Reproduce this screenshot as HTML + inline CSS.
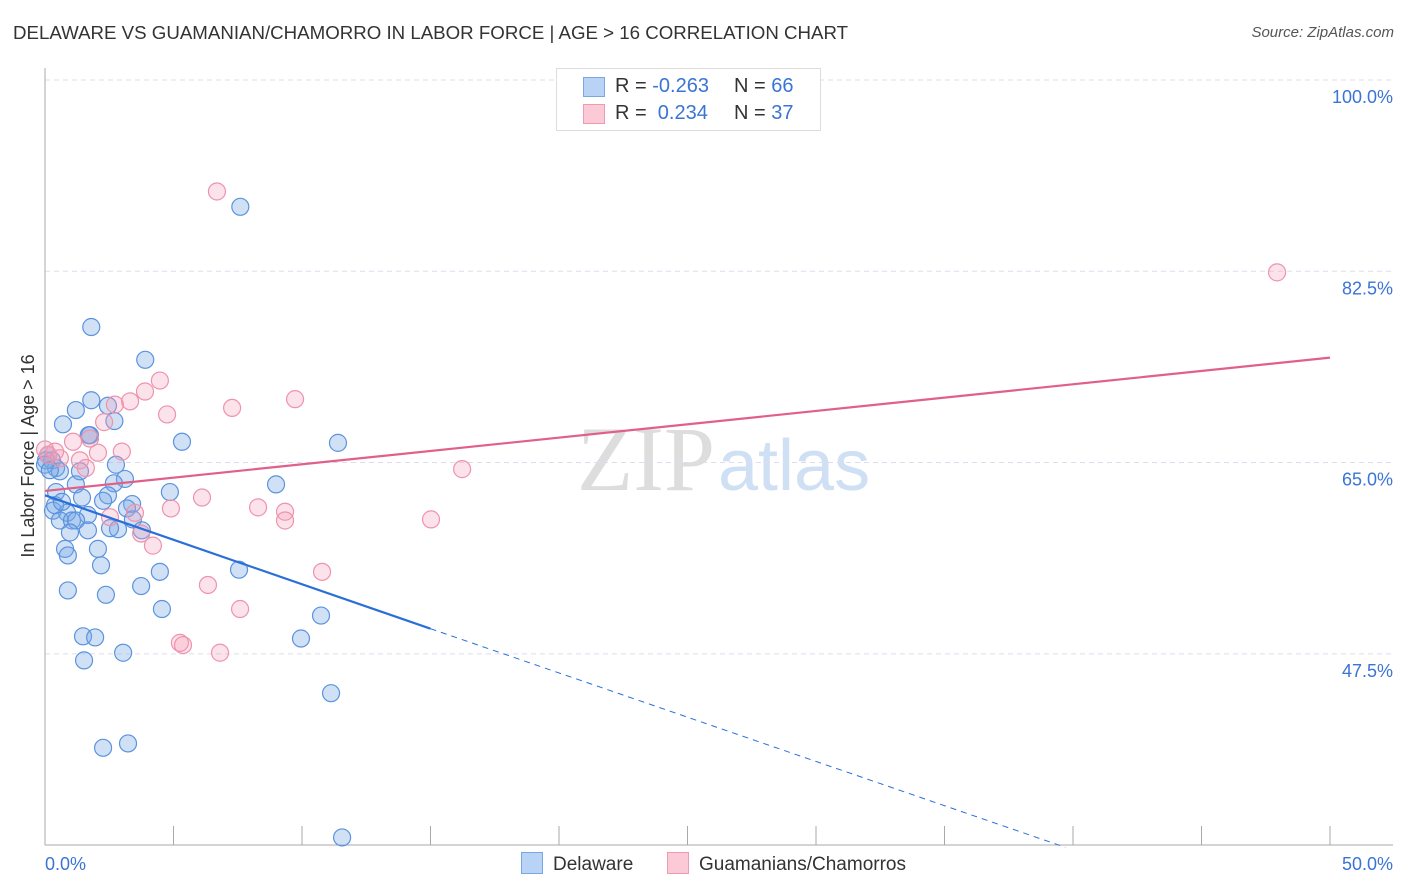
<!DOCTYPE html>
<html><head><meta charset="utf-8"><style>
body{margin:0;background:#fff;font-family:"Liberation Sans",sans-serif}
#wrap{position:relative;width:1406px;height:892px;overflow:hidden}
.t{position:absolute;white-space:nowrap}
</style></head><body>
<div id="wrap">
<div class="t" style="left:13px;top:22px;font-size:18.7px;color:#333">DELAWARE VS GUAMANIAN/CHAMORRO IN LABOR FORCE | AGE &gt; 16 CORRELATION CHART</div>
<div class="t" style="right:12px;top:24px;font-size:15px;color:#555;font-style:italic">Source: ZipAtlas.com</div>
<svg id="svg" width="1406" height="892" style="position:absolute;left:0;top:0"></svg>
</div>
<script>
const yTicks=[100,82.5,65,47.5];
const xTickLabels=["0.0%","50.0%"];
const blueX=[7.6,1.8,3.9,1.8,1.2,2.45,2.7,0.7,1.75,1.7,5.33,11.4,0.12,0.27,0.43,0.58,2.76,3.11,8.99,1.2,2.68,4.86,0.43,1.44,2.45,2.26,3.39,3.19,0.31,0.86,1.67,0.58,1.05,1.21,3.42,3.77,1.67,2.84,2.53,0.97,2.06,0.78,0.89,2.18,4.47,7.55,0.89,3.74,2.37,4.55,10.74,1.48,1.95,9.96,3.04,1.52,11.13,2.26,3.23,11.56,0.04,0,0.19,0.39,1.36,0.66];
const blueY=[88.4,77.4,74.4,70.7,69.8,70.2,68.8,68.5,67.5,67.5,66.9,66.8,65.7,65.2,64.5,64.2,64.8,63.5,63.0,63.0,63.1,62.3,62.3,61.8,62.0,61.5,61.2,60.8,60.6,60.4,60.2,59.7,59.7,59.7,59.8,58.8,58.8,58.9,59.0,58.6,57.1,57.1,56.5,55.6,55.0,55.2,53.3,53.7,52.9,51.6,51.0,49.1,49.0,48.9,47.6,46.9,43.9,38.9,39.3,30.7,65.2,64.8,64.3,61.1,64.2,61.4];
const pinkX=[6.69,47.94,4.47,3.89,3.31,2.72,9.73,7.28,4.75,2.30,1.75,2.99,1.09,2.06,1.36,0.58,0.12,0.39,1.59,16.23,6.11,4.90,8.29,9.34,9.34,15.02,3.50,3.74,4.20,10.78,6.34,7.59,5.25,5.37,6.81,0,2.53];
const pinkY=[89.8,82.4,72.5,71.5,70.6,70.3,70.8,70.0,69.4,68.7,67.2,66.0,66.9,65.9,65.2,65.4,65.7,66.0,64.5,64.4,61.8,60.8,60.9,60.5,59.7,59.8,60.4,58.5,57.4,55.0,53.8,51.6,48.5,48.3,47.6,66.2,60.0];
const X0=45,X1=1330,Y0=80,PPY=10.93;
const sx=v=>X0+v/50*(X1-X0), sy=v=>Y0+(100-v)*PPY;
const svg=document.getElementById('svg'),NS='http://www.w3.org/2000/svg';
function mk(tag,at,parent){const e=document.createElementNS(NS,tag);for(const k in at)e.setAttribute(k,at[k]);(parent||svg).appendChild(e);return e;}
let e;
e=mk('text',{x:715,y:490,'font-size':92,'font-family':'Liberation Serif,serif',fill:'#ddd','text-anchor':'end'});e.textContent='ZIP';


e=mk('text',{x:718,y:490,'font-size':72,'font-family':'Liberation Sans,sans-serif',fill:'#cfdff4'});e.textContent='atlas';


yTicks.forEach(v=>{
 e=mk('line',{x1:45,x2:1393,y1:sy(v),y2:sy(v),stroke:'#dde',"stroke-dasharray":'5,4'});
 
 
 e=mk('text',{x:1393,y:sy(v)+23,'font-size':18,fill:'#3a74d4','text-anchor':'end'});e.textContent=v.toFixed(1)+'%';
 
 
});
e=mk('line',{x1:45,x2:45,y1:68,y2:845,stroke:'#aaa'});


e=mk('line',{x1:45,x2:1393,y1:845,y2:845,stroke:'#aaa'});


for(let i=0;i<=10;i++){e=mk('line',{x1:sx(i*5),x2:sx(i*5),y1:826,y2:845,stroke:'#aaa'});
 
 }
e=mk('text',{x:45,y:870,'font-size':18,fill:'#3a74d4'});e.textContent=xTickLabels[0];


e=mk('text',{x:1393,y:870,'font-size':18,fill:'#3a74d4','text-anchor':'end'});e.textContent=xTickLabels[1];


e=mk('text',{x:34,y:456,'font-size':18,fill:'#333','text-anchor':'middle',transform:'rotate(-90 34 456)'});e.textContent='In Labor Force | Age > 16';


blueX.forEach((v,i)=>{e=mk('circle',{cx:sx(v),cy:sy(blueY[i]),r:8.5,fill:'rgba(120,170,230,0.35)',stroke:'#5b93de','stroke-width':1.2});
 
 });
pinkX.forEach((v,i)=>{e=mk('circle',{cx:sx(v),cy:sy(pinkY[i]),r:8.5,fill:'rgba(245,160,185,0.3)',stroke:'#ee93ad','stroke-width':1.2});
 
 });
e=mk('line',{x1:sx(0),y1:sy(62.4),x2:sx(50),y2:sy(74.6),stroke:'#e0608a','stroke-width':2.2});


e=mk('line',{x1:sx(0),y1:sy(62.0),x2:sx(15),y2:sy(49.8),stroke:'#2a6fd8','stroke-width':2.2});


e=mk('line',{x1:sx(15),y1:sy(49.8),x2:sx(39.7),y2:sy(29.8),stroke:'#2a6fd8','stroke-width':1,'stroke-dasharray':'6,5'});


</script>
<div class="t" style="left:556px;top:68px;width:263px;height:61px;border:1px solid #ddd;background:#fff;font-size:20px;color:#333">
 <div style="position:absolute;left:26px;top:8px;width:20px;height:18px;background:#b8d3f5;border:1px solid #7aa7e3"></div>
 <div style="position:absolute;left:58px;top:6px">R = <span style="color:#3a74d4">-0.263</span></div>
 <div style="position:absolute;left:177px;top:6px">N = <span style="color:#3a74d4">66</span></div>
 <div style="position:absolute;left:26px;top:35px;width:20px;height:18px;background:#fcc9d7;border:1px solid #ee9ab2"></div>
 <div style="position:absolute;left:58px;top:33px">R = &nbsp;<span style="color:#3a74d4">0.234</span></div>
 <div style="position:absolute;left:177px;top:33px">N = <span style="color:#3a74d4">37</span></div>
</div>
<div class="t" style="left:521px;top:852px;font-size:19px;color:#333"><span style="display:inline-block;width:20px;height:20px;background:#b8d3f5;border:1px solid #7aa7e3;vertical-align:-4px;margin-right:10px"></span>Delaware</div>
<div class="t" style="left:667px;top:852px;font-size:19px;color:#333"><span style="display:inline-block;width:20px;height:20px;background:#fcc9d7;border:1px solid #ee9ab2;vertical-align:-4px;margin-right:10px"></span>Guamanians/Chamorros</div>
</body></html>
